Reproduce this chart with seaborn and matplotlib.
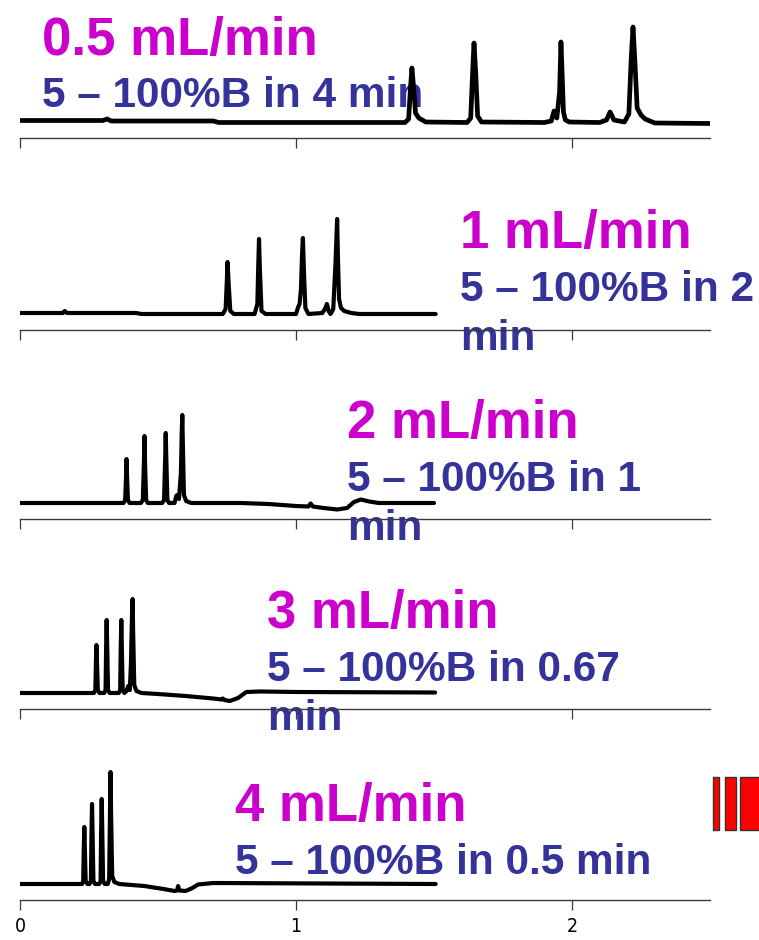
import numpy as np
import pandas as pd
import matplotlib
matplotlib.use("Agg")
import matplotlib.pyplot as plt
from matplotlib.patches import Rectangle
import seaborn as sns

# ---------------- data ----------------
# time in min, signal in arbitrary detector units
t1 = [0.00, 0.30, 0.316, 0.33, 0.70, 0.72, 1.395, 1.408, 1.415, 1.420, 1.426, 1.433, 1.445, 1.47,
      1.62, 1.633, 1.640, 1.645, 1.651, 1.658, 1.672, 1.90, 1.925, 1.935, 1.945, 1.955, 1.960,
      1.964, 1.969, 1.976, 1.99, 2.10, 2.125, 2.138, 2.152, 2.19, 2.206, 2.214, 2.221, 2.228,
      2.236, 2.25, 2.265, 2.30, 2.50]
s1 = [1.5, 1.5, 3, 1, 1, -0.5, -0.5, 3, 35, 54, 35, 9, 4, 0,
      -0.5, 4, 50, 79, 50, 6, 0, -0.5, 1, 11, 4, 30, 80,
      50, 10, 2, 0, -0.5, 2, 10, 2, 0, 8, 60, 95, 60,
      14, 7, 3, -1, -1.5]

t2 = [0.00, 0.155, 0.162, 0.17, 0.42, 0.44, 0.735, 0.745, 0.749, 0.752, 0.756, 0.762, 0.775,
      0.85, 0.860, 0.863, 0.866, 0.869, 0.875, 0.89, 1.00, 1.008, 1.013, 1.018, 1.022, 1.025,
      1.029, 1.034, 1.045, 1.095, 1.105, 1.112, 1.118, 1.125, 1.135, 1.143, 1.149, 1.152, 1.156,
      1.163, 1.175, 1.20, 1.23, 1.506]
s2 = [1, 1, 3, 1, 1, 0, 0, 5, 30, 52, 30, 3, 0,
      0, 10, 45, 75, 45, 3, 0, 0, 7, 10, 25, 60, 76,
      40, 6, 0, 1, 5, 10, 3, 0, 5, 50, 95, 55, 15,
      6, 3, 1, 0, 0]

t3 = [0.00, 0.375, 0.381, 0.384, 0.386, 0.388, 0.391, 0.397, 0.438, 0.445, 0.449, 0.451, 0.453,
      0.457, 0.463, 0.515, 0.522, 0.526, 0.528, 0.530, 0.534, 0.540, 0.560, 0.566, 0.570, 0.576,
      0.583, 0.586, 0.588, 0.590, 0.594, 0.602, 0.62, 0.80, 0.90, 1.00, 1.045, 1.053, 1.061,
      1.10, 1.15, 1.185, 1.21, 1.235, 1.265, 1.30, 1.50]
s3 = [0, 0, 3, 25, 44, 25, 3, 0, 0, 3, 40, 67, 40,
      3, 0, 0, 3, 45, 70, 45, 3, 0, 0, 7, 8, 4,
      30, 70, 88, 60, 8, 2, 0, 0, -1, -3, -3.5, -0.5, -3.5,
      -5, -6.5, -5, 1, 3.5, 1.5, 0, 0]

t4 = [0.00, 0.268, 0.273, 0.275, 0.277, 0.279, 0.282, 0.288, 0.305, 0.310, 0.312, 0.314, 0.316,
      0.319, 0.325, 0.358, 0.363, 0.365, 0.367, 0.369, 0.372, 0.378, 0.386, 0.392, 0.398, 0.402,
      0.406, 0.408, 0.410, 0.414, 0.422, 0.44, 0.50, 0.60, 0.70, 0.73, 0.735, 0.74, 0.76, 0.79,
      0.82, 0.87, 1.00, 1.504]
s4 = [0, 0, 3, 30, 48, 30, 3, 0, 0, 3, 45, 73, 45,
      3, 0, 0, 3, 45, 73, 45, 3, 0, 2, 7, 3, 30,
      80, 94, 60, 8, 2, 0, -1, -3, -5.5, -6.5, -5.5, -7, -8, -5,
      1, 1.5, 1, 0.5]

t5 = [0.00, 0.225, 0.229, 0.231, 0.233, 0.235, 0.238, 0.244, 0.252, 0.257, 0.259, 0.261, 0.263,
      0.266, 0.272, 0.287, 0.292, 0.294, 0.296, 0.298, 0.301, 0.307, 0.318, 0.323, 0.326, 0.328,
      0.330, 0.334, 0.342, 0.36, 0.45, 0.52, 0.56, 0.569, 0.573, 0.577, 0.60, 0.625, 0.645, 0.70,
      1.506]
s5 = [0, 0, 3, 35, 57, 35, 3, 0, 0, 3, 50, 80, 50,
      3, 0, 0, 3, 55, 85, 55, 3, 0, 0, 5, 70, 112,
      70, 8, 2, 0, -2, -5, -7, -6.5, -2, -6.5, -7, -4, -0.5, 1,
      0]

flow_labels = ["0.5 mL/min", "1 mL/min", "2 mL/min", "3 mL/min", "4 mL/min"]
gradient_labels = ["5 \u2013 100%B in 4 min", "5 \u2013 100%B in 2\nmin", "5 \u2013 100%B in 1\nmin",
                   "5 \u2013 100%B in 0.67\nmin", "5 \u2013 100%B in 0.5 min"]
x_ticks = [0, 1, 2]
x_tick_labels = ["0", "1", "2"]

times = [t1, t2, t3, t4, t5]
signals = [s1, s2, s3, s4, s5]

# ---------------- layout / style ----------------
sns.set_style("white")
plt.rcParams["font.family"] = ["Liberation Sans", "DejaVu Sans"]

W, H = 759, 940
fig = plt.figure(figsize=(W / 100, H / 100), dpi=100)

axis_y = [138, 330, 519, 709, 900]          # pixel row of each panel's axis line
panel_h = 180
x_left, x_right = 20, 710
flow_pos = [(42, 55), (460, 248), (347, 438), (267, 628), (235, 821)]
# baseline of the LAST line of each gradient label
grad_pos = [(42, 107), (460, 350), (347, 540), (267, 730), (235, 874)]
line_w = [3.4, 3.0, 3.0, 3.0, 3.0]
MAGENTA = "#CC00CC"
NAVY = "#333399"
AXC = "#3a3a3a"

axes = []
for i in range(5):
    ax = fig.add_axes([x_left / W, 1 - axis_y[i] / H, (x_right - x_left) / W, panel_h / H])
    ax.patch.set_alpha(0)
    df = pd.DataFrame({"time": times[i], "signal": signals[i]})
    sns.lineplot(data=df, x="time", y="signal", ax=ax, color="black", lw=line_w[i],
                 sort=False, estimator=None, zorder=3)
    ln = ax.lines[-1]
    ln.set_solid_joinstyle("round")
    ln.set_solid_capstyle("round")
    ax.set_xlim(0, 2.5)
    ax.set_ylim(-16, 164)
    for sp in ["top", "left", "right"]:
        ax.spines[sp].set_visible(False)
    ax.spines["bottom"].set_color(AXC)
    ax.spines["bottom"].set_linewidth(1.0)
    ax.set_xticks(x_ticks)
    ax.set_yticks([])
    ax.set_xlabel("")
    ax.set_ylabel("")
    ax.tick_params(axis="x", bottom=True, direction="out", length=7, width=0.9, color=AXC)
    if i == 4:
        ax.set_xticklabels(x_tick_labels, fontsize=14, fontstretch="condensed",
                           family=["Liberation Sans Narrow", "DejaVu Sans"])
        ax.tick_params(axis="x", pad=5, labelcolor="black")
    else:
        ax.tick_params(axis="x", labelbottom=False)

    ax.text(flow_pos[i][0] / W, 1 - flow_pos[i][1] / H, flow_labels[i], transform=fig.transFigure,
            color=MAGENTA, fontsize=38, fontweight="bold", ha="left", va="baseline", zorder=1)
    ax.text(grad_pos[i][0] / W, 1 - grad_pos[i][1] / H, gradient_labels[i], transform=fig.transFigure,
            color=NAVY, fontsize=30.5, fontweight="bold", ha="left", va="baseline",
            linespacing=1.3, zorder=1)
    axes.append(ax)

# red marker bars at the lower right (decorative, in panel-5 coordinates)
ax5 = axes[4]
for (xa, xb) in [(2.511, 2.534), (2.553, 2.594), (2.609, 2.70)]:
    ax5.add_patch(Rectangle((xa, 54), xb - xa, 53, facecolor="#FF0000", edgecolor="#333333",
                            lw=1.0, clip_on=False, zorder=2))

fig.savefig("out.png", dpi=100)
